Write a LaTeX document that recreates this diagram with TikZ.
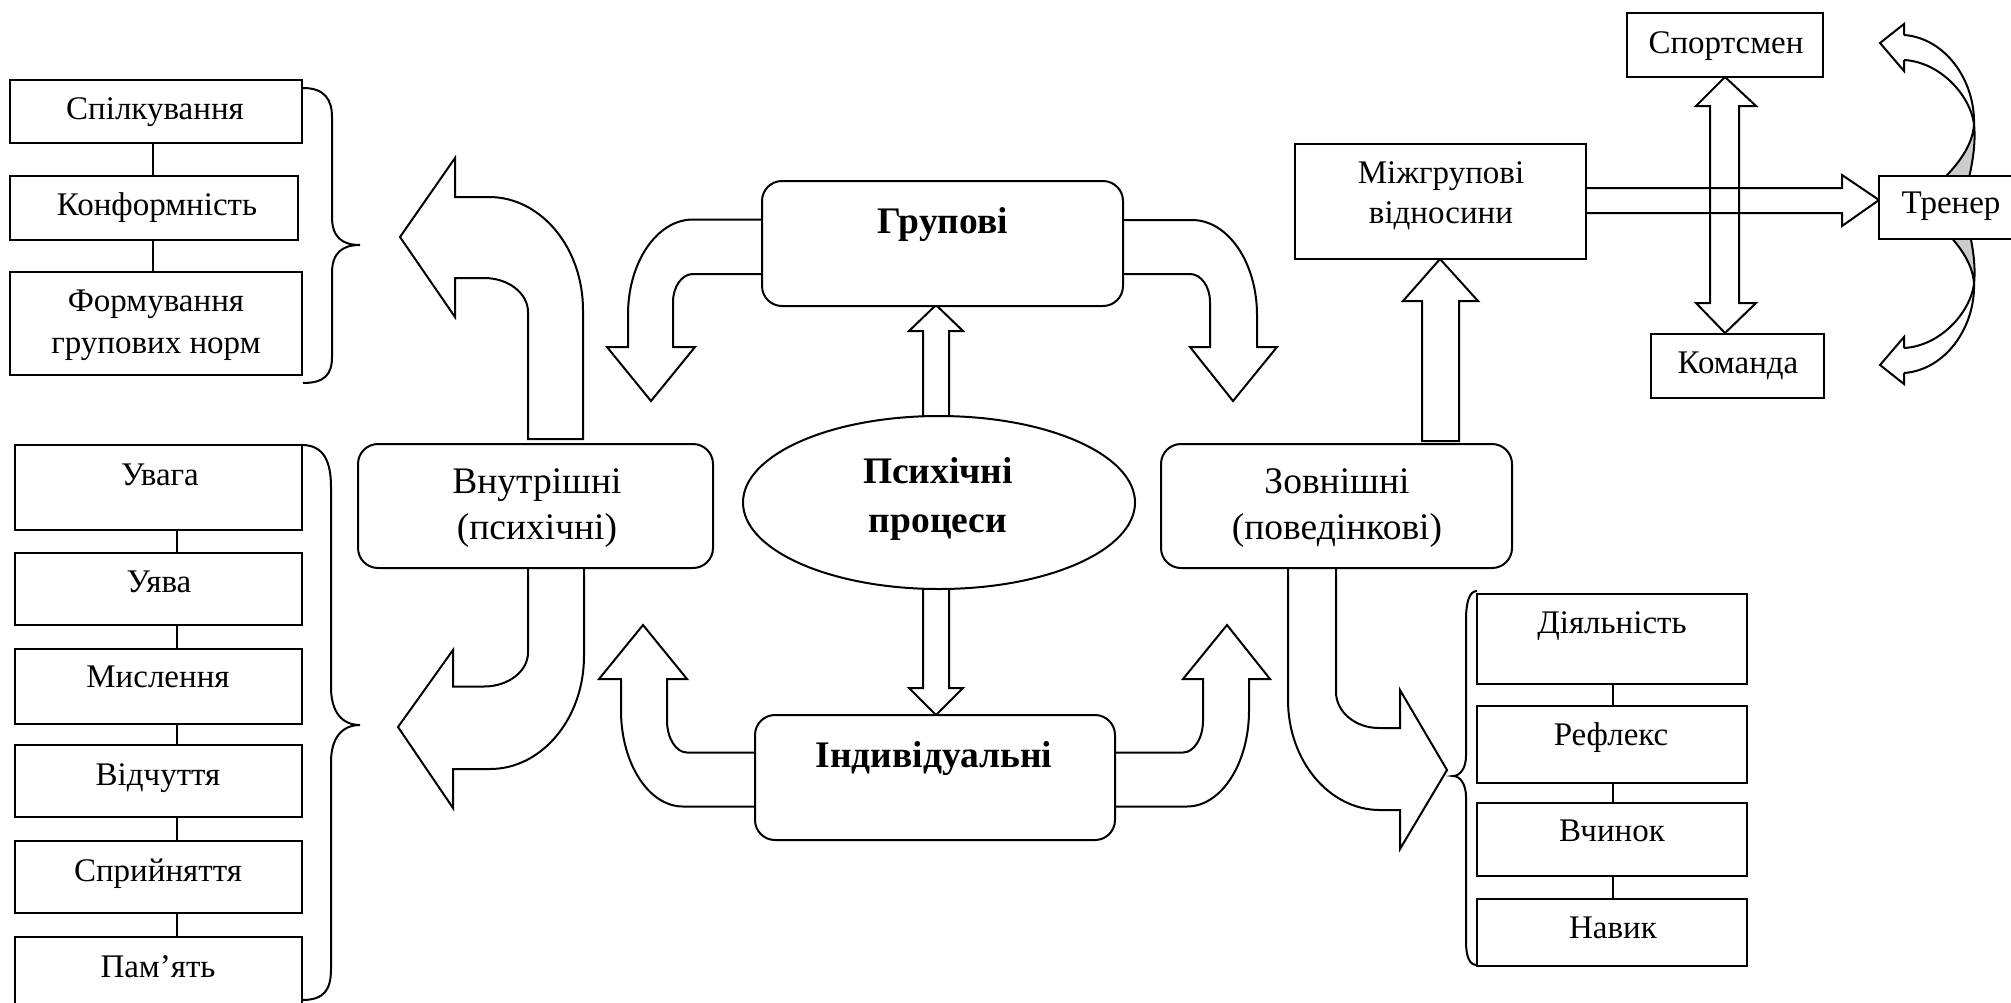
\documentclass[tikz,border=0pt]{standalone}
\usepackage{fontspec}
\setmainfont{Liberation Serif}
\usetikzlibrary{shapes.geometric}

\begin{document}
\begin{tikzpicture}[x=0.5pt, y=-0.5pt, line width=1pt, line join=miter,
  box/.style={draw, fill=white, rectangle, inner sep=0pt},
  rbox/.style={box, rounded corners=10pt},
  blockarrow/.style={draw, fill=white},
  openarrow/.style={draw},
  twist/.style={draw, fill=gray!40},
  brace/.style={draw},
  link/.style={draw},
  small/.style={font=\fontsize{16.5}{20}\selectfont, anchor=base, inner sep=0pt},
  big/.style={font=\fontsize{18.75}{23}\selectfont, anchor=base, inner sep=0pt},
  bigbold/.style={font=\fontsize{18.75}{23}\selectfont\bfseries, anchor=base, inner sep=0pt},
]
\useasboundingbox (0,0) rectangle (2011,1002);

% ---------- block arrows ----------
% Internal -> upper list
\path[blockarrow] (528,439) -- (528,312) .. controls (528,293.2) and (508.3,278) .. (484,278)
  -- (455,278) -- (455,317) -- (400,237) -- (455,158) -- (455,197) -- (489,197)
  .. controls (540.9,197) and (583,247.6) .. (583,310) -- (583,439) -- cycle;
% Internal -> lower list
\path[blockarrow] (528,566) -- (528,652.5) .. controls (528,671.3) and (508.3,686.5) .. (484,686.5)
  -- (453,686.5) -- (453,650) -- (398,727) -- (453,808) -- (453,769) -- (490,769)
  .. controls (541.9,769) and (584,718.4) .. (584,656) -- (584,566) -- cycle;
% Group -> left
\path[blockarrow] (765,219.5) -- (693,219.5) .. controls (657.1,219.5) and (628,262) .. (628,314.5)
  -- (628,347) -- (607,347) -- (651,401) -- (695,347) -- (673,347) -- (673,302)
  .. controls (673,286.5) and (682,274) .. (693,274) -- (765,274) -- cycle;
% Group -> right
\path[blockarrow] (1120,220) -- (1192,220) .. controls (1227.9,220) and (1257,262.5) .. (1257,315)
  -- (1257,347) -- (1277,347) -- (1233,401) -- (1190,347) -- (1210,347) -- (1210,302)
  .. controls (1210,286.5) and (1201,274) .. (1190,274) -- (1120,274) -- cycle;
% Individual -> left
\path[blockarrow] (758,752.5) -- (687,752.5) .. controls (676,752.5) and (667,738.2) .. (667,720.5)
  -- (667,679) -- (687,679) -- (643,625) -- (599,679) -- (621,679) -- (621,710.5)
  .. controls (621,763.5) and (648.8,806.5) .. (683,806.5) -- (758,806.5) -- cycle;
% Individual -> right
\path[blockarrow] (1112,752.5) -- (1183,752.5) .. controls (1194,752.5) and (1203,738.2) .. (1203,720.5)
  -- (1203,679) -- (1183,679) -- (1227,625) -- (1270,679) -- (1249,679) -- (1249,710.5)
  .. controls (1249,763.5) and (1221.2,806.5) .. (1187,806.5) -- (1112,806.5) -- cycle;
% External -> right list
\path[blockarrow] (1288,566) -- (1288,700) .. controls (1288,760.8) and (1329.2,810) .. (1380,810)
  -- (1400,810) -- (1400,849) -- (1447,770) -- (1400,690) -- (1400,728) -- (1379,728)
  .. controls (1355.3,728) and (1336,711.9) .. (1336,692) -- (1336,566) -- cycle;
% Mental processes -> group / individual
\path[blockarrow] (923,430) -- (923,331) -- (909,331) -- (936,305) -- (963,331) -- (949,331) -- (949,430) -- cycle;
\path[blockarrow] (923,575) -- (923,688) -- (909,688) -- (936,715) -- (963,688) -- (949,688) -- (949,575) -- cycle;
% External -> intergroup
\path[blockarrow] (1422,441) -- (1422,301) -- (1403,301) -- (1440,259) -- (1478,301) -- (1459,301) -- (1459,441) -- cycle;
% Intergroup -> coach
\path[openarrow] (1586,188) -- (1842,188) -- (1842,175) -- (1879,200) -- (1842,226) -- (1842,213) -- (1586,213);
% Athlete <-> team
\path[openarrow] (1710,106) -- (1696,106) -- (1725,77) -- (1756,106) -- (1739,106) -- (1739,303)
  -- (1756,303) -- (1725,333) -- (1696,303) -- (1710,303) -- cycle;
% Coach: curved arrows up and down
\path[twist] (1974,124) .. controls (1973,145) and (1958,165) .. (1940,182) -- (1968,182)
  .. controls (1972,165) and (1976,145) .. (1974,124) -- cycle;
\draw (1904,35) .. controls (1945,38) and (1975,80) .. (1974,124);
\draw (1904,60) .. controls (1940,62) and (1970,95) .. (1974,124);
\draw (1904,35) -- (1904,24) -- (1880,43) -- (1904,71) -- (1904,60);
\path[twist] (1974,284) .. controls (1973,263) and (1958,243) .. (1940,226) -- (1968,226)
  .. controls (1972,243) and (1976,263) .. (1974,284) -- cycle;
\draw (1904,373) .. controls (1945,370) and (1975,328) .. (1974,284);
\draw (1904,348) .. controls (1940,346) and (1970,313) .. (1974,284);
\draw (1904,373) -- (1904,384) -- (1880,365) -- (1904,337) -- (1904,348);

% ---------- boxes ----------
\node[box, minimum width=146pt, minimum height=31.5pt] (spil) at (156,111.5) {};
\node[box, minimum width=144pt, minimum height=32pt] (konf) at (154,208) {};
\node[box, minimum width=146pt, minimum height=51.5pt] (form) at (156,323.5) {};

\node[box, minimum width=143.75pt, minimum height=42.25pt] (uvaga) at (158.25,487.25) {};
\node[box, minimum width=143.75pt, minimum height=36.25pt] (uyava) at (158.25,588.75) {};
\node[box, minimum width=143.75pt, minimum height=37.5pt] (mysl) at (158.25,686.5) {};
\node[box, minimum width=143.75pt, minimum height=36pt] (vidch) at (158.25,781) {};
\node[box, minimum width=143.75pt, minimum height=36pt] (spryin) at (158.25,877) {};
\node[box, minimum width=143.75pt, minimum height=39pt] (pamyat) at (158.25,976) {};

\node[box, minimum width=135pt, minimum height=45pt] (diyal) at (1612,639) {};
\node[box, minimum width=135pt, minimum height=38.25pt] (refl) at (1612,744.25) {};
\node[box, minimum width=135pt, minimum height=36.5pt] (vchyn) at (1612,839.5) {};
\node[box, minimum width=135pt, minimum height=33.5pt] (navyk) at (1612,932.5) {};

\node[box, minimum width=145.5pt, minimum height=57.5pt] (mizh) at (1440.5,201.5) {};
\node[box, minimum width=98pt, minimum height=32pt] (sport) at (1725,45) {};
\node[box, minimum width=86.5pt, minimum height=32pt] (koman) at (1737.5,366) {};
\node[box, minimum width=80.5pt, minimum height=31.5pt] (trener) at (1959.5,207.5) {};

\node[rbox, minimum width=177.5pt, minimum height=62pt] (vnutr) at (535.5,506) {};
\node[rbox, minimum width=175.5pt, minimum height=62pt] (zovn) at (1336.5,506) {};
\node[rbox, minimum width=180.5pt, minimum height=62.5pt] (grup) at (942.5,243.5) {};
\node[rbox, minimum width=180pt, minimum height=62.5pt] (indyv) at (935,777.5) {};
\node[draw, fill=white, ellipse, inner sep=0pt, minimum width=196pt, minimum height=86.5pt] (psych) at (939,502.5) {};

% ---------- links inside the lists ----------
\coordinate (ux) at (153,0);
\coordinate (lx) at (177,0);
\coordinate (rx) at (1613,0);
\path[link] (spil.south -| ux) -- (konf.north -| ux);
\path[link] (konf.south -| ux) -- (form.north -| ux);
\path[link] (uvaga.south -| lx) -- (uyava.north -| lx);
\path[link] (uyava.south -| lx) -- (mysl.north -| lx);
\path[link] (mysl.south -| lx) -- (vidch.north -| lx);
\path[link] (vidch.south -| lx) -- (spryin.north -| lx);
\path[link] (spryin.south -| lx) -- (pamyat.north -| lx);
\path[link] (diyal.south -| rx) -- (refl.north -| rx);
\path[link] (refl.south -| rx) -- (vchyn.north -| rx);
\path[link] (vchyn.south -| rx) -- (navyk.north -| rx);

% ---------- braces ----------
\path[brace] (303,88) .. controls (325,88) and (332,100) .. (332,117) -- (332,217)
  .. controls (332,237) and (342,245) .. (360,245) .. controls (342,245) and (332,253) .. (332,273)
  -- (332,357) .. controls (332,374) and (325,383) .. (303,383);
\path[brace] (302,445) .. controls (324,445) and (331,462) .. (331,487) -- (331,687)
  .. controls (331,712) and (342,725) .. (360,725) .. controls (342,725) and (331,738) .. (331,762)
  -- (331,969) .. controls (331,990) and (324,1000) .. (302,1000);
\path[brace] (1477,591) .. controls (1469,591) and (1466,603) .. (1466,620) -- (1466,756)
  .. controls (1466,768) and (1460,776) .. (1453,776) .. controls (1460,776) and (1466,784) .. (1466,797)
  -- (1466,941) .. controls (1466,956) and (1469,965) .. (1477,965);

% ---------- texts ----------
\node[small] (spil-t) at (155,119) {Спілкування};
\node[small] (konf-t) at (157,215) {Конформність};
\node[small] (form-t1) at (156,311) {Формування};
\node[small] (form-t2) at (156,353) {групових норм};

\node[small] (uvaga-t) at (160,485) {Увага};
\node[small] (uyava-t) at (159,592.5) {Уява};
\node[small] (mysl-t) at (158,687) {Мислення};
\node[small] (vidch-t) at (158,785.5) {Відчуття};
\node[small] (spryin-t) at (158,881) {Сприйняття};
\node[small] (pamyat-t) at (158,977) {Пам’ять};

\node[small] (diyal-t) at (1612,633) {Діяльність};
\node[small] (refl-t) at (1611,745) {Рефлекс};
\node[small] (vchyn-t) at (1612,841) {Вчинок};
\node[small] (navyk-t) at (1613,938) {Навик};

\node[small] (mizh-t1) at (1441,183) {Міжгрупові};
\node[small] (mizh-t2) at (1441,223) {відносини};
\node[small] (sport-t) at (1726,53) {Спортсмен};
\node[small] (koman-t) at (1738,373) {Команда};
\node[small] (trener-t) at (1951,213) {Тренер};

\node[big] (vnutr-t1) at (537,493) {Внутрішні};
\node[big] (vnutr-t2) at (537,539) {(психічні)};
\node[big] (zovn-t1) at (1337,493) {Зовнішні};
\node[big] (zovn-t2) at (1337,539) {(поведінкові)};

\node[bigbold] (grup-t) at (942.5,233) {Групові};
\node[bigbold] (psych-t1) at (938,483.5) {Психічні};
\node[bigbold] (psych-t2) at (938,532) {процеси};
\node[bigbold] (indyv-t) at (934,767) {Індивідуальні};
\end{tikzpicture}
\end{document}
